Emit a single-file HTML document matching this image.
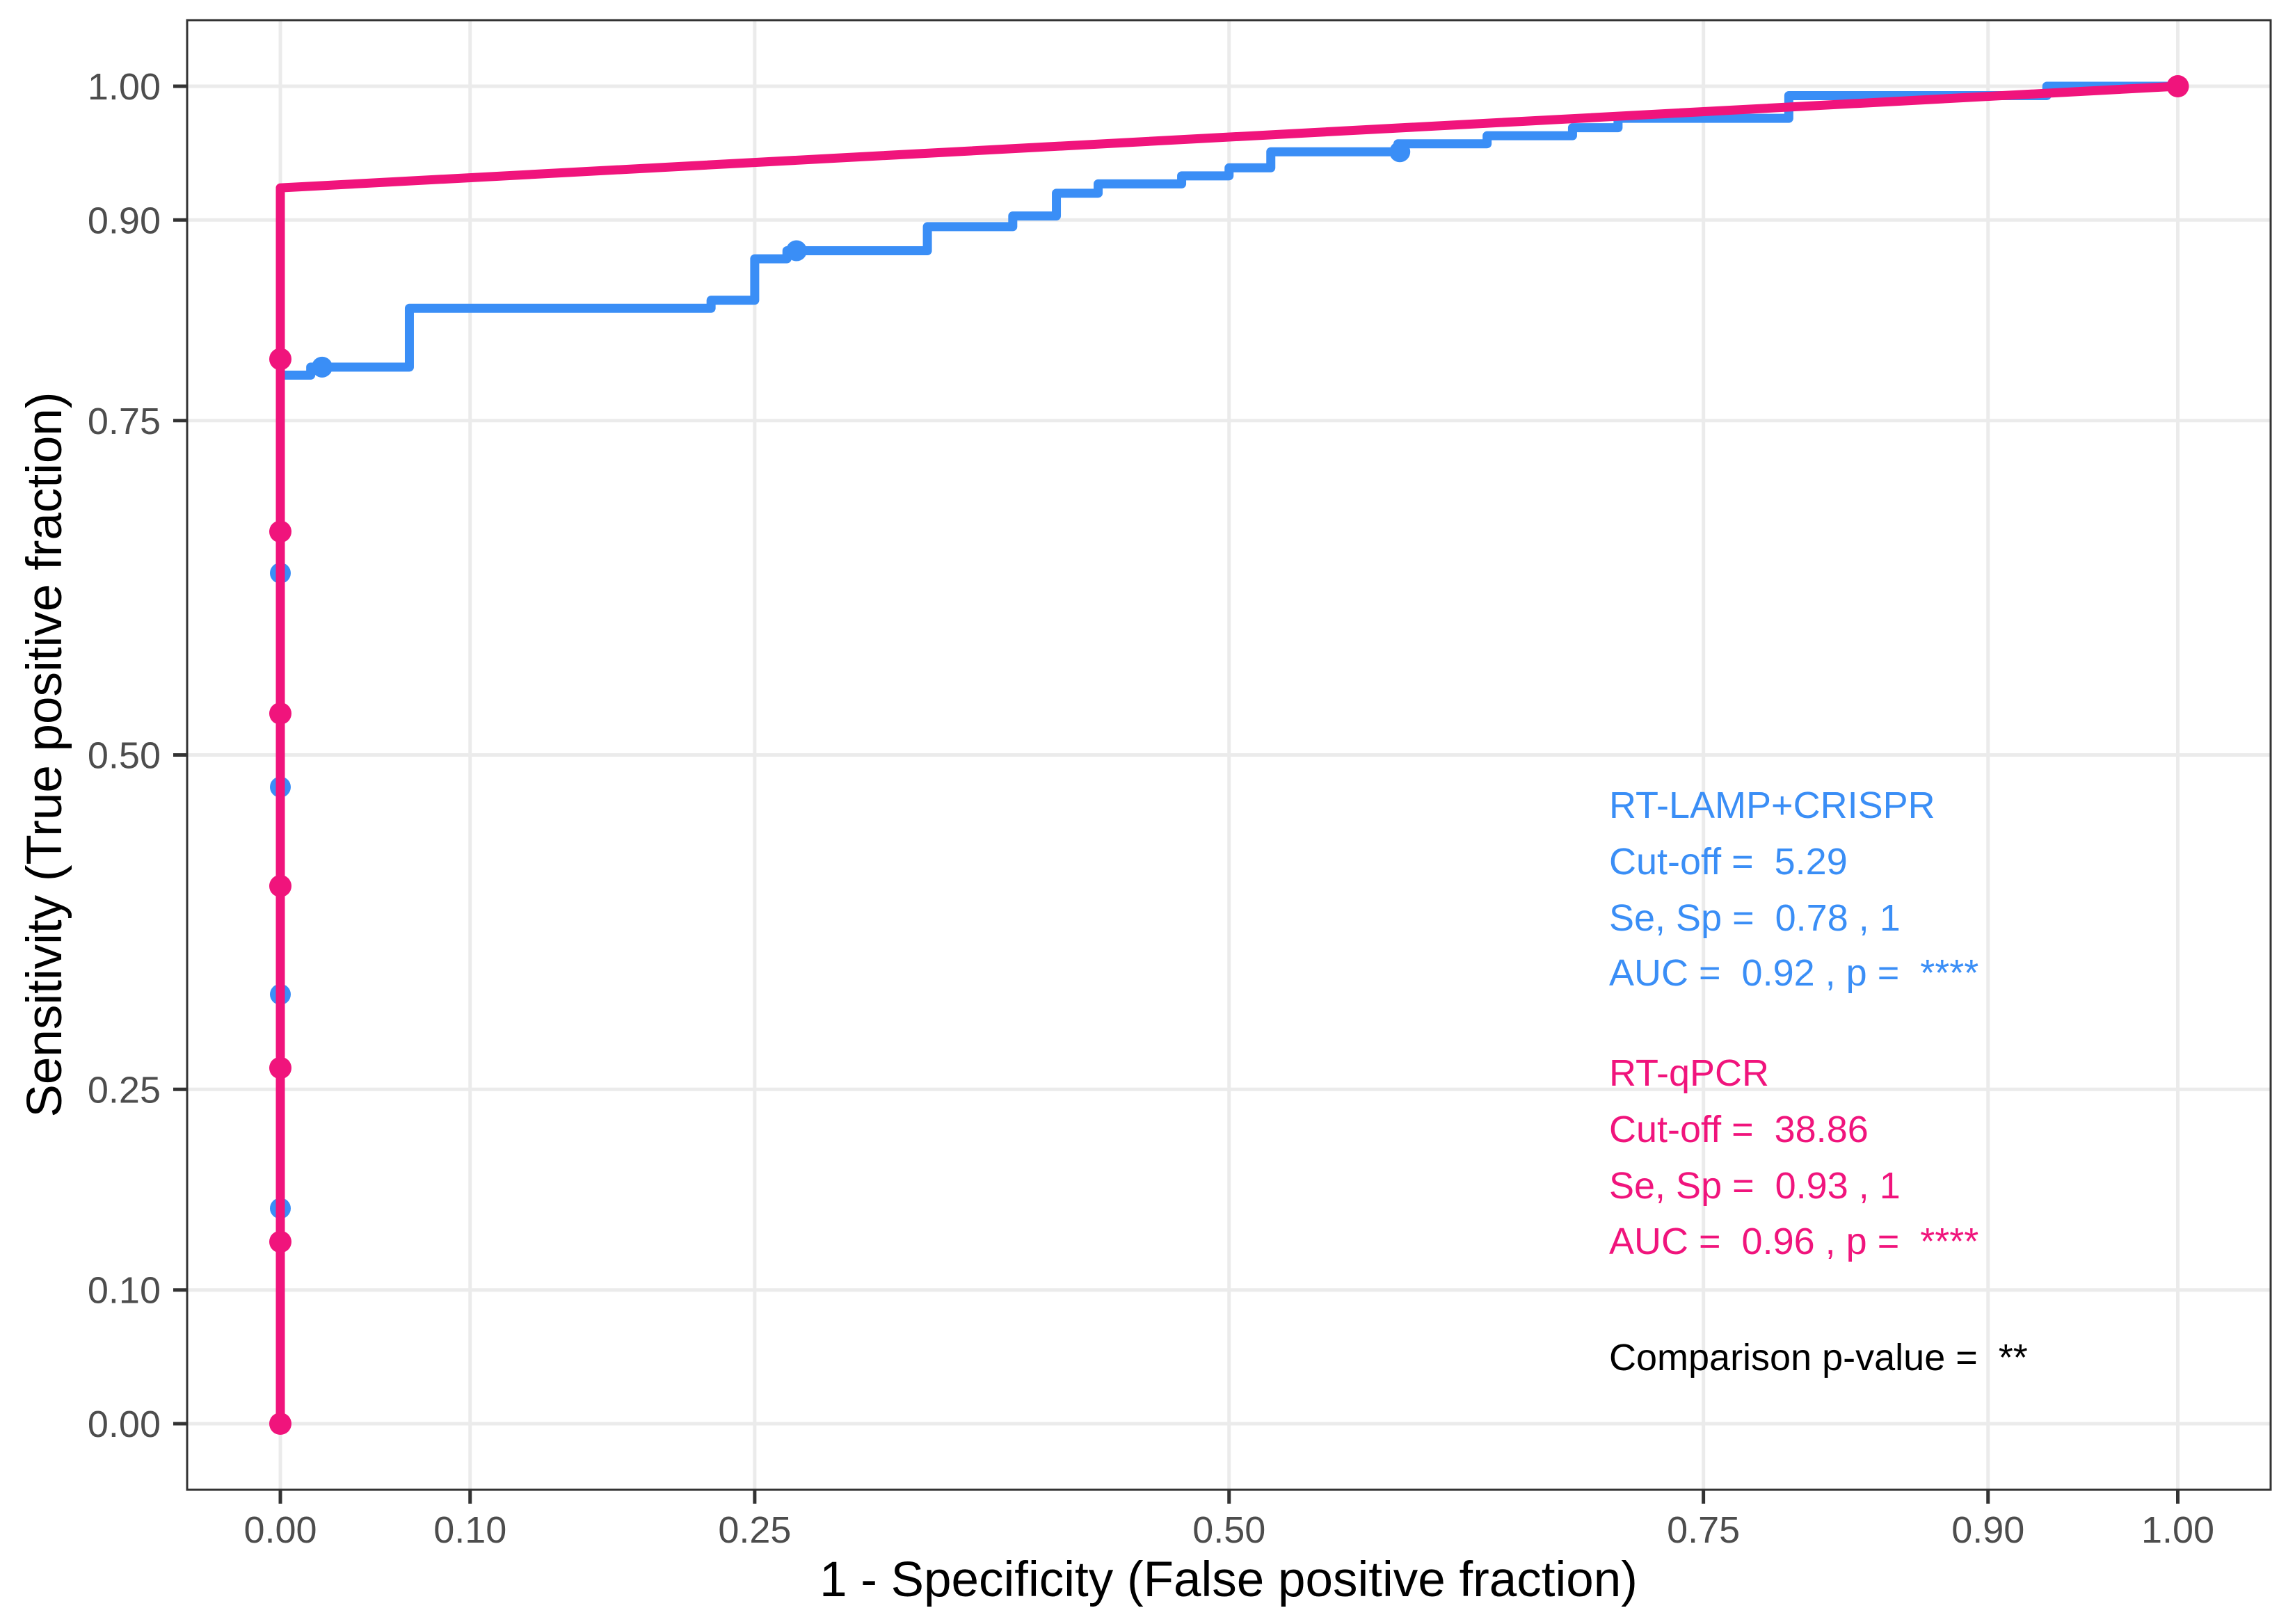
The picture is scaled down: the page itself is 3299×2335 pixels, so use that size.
<!DOCTYPE html>
<html><head><meta charset="utf-8"><style>
html,body{margin:0;padding:0;background:#fff;}
svg{display:block;font-family:"Liberation Sans",Arial,sans-serif;}
text{white-space:pre;}
</style></head><body>
<svg id="chart" width="3299" height="2335" viewBox="0 0 3299 2335" xmlns="http://www.w3.org/2000/svg" xml:space="preserve">
<rect x="0" y="0" width="3299" height="2335" fill="#fff"/>
<g id="grid"></g>
<g id="series"></g>
<rect x="269" y="29" width="2995" height="2113" fill="none" stroke="#333" stroke-width="3"/>
<g id="axes"></g>
<text x="1766" y="2295" font-size="71" text-anchor="middle" fill="#000">1 - Specificity (False positive fraction)</text>
<text transform="translate(88,1085) rotate(-90)" font-size="71" text-anchor="middle" fill="#000">Sensitivity (True positive fraction)</text>
<g font-size="54">
<text x="2313" y="1176" fill="#3A8EF6">RT-LAMP+CRISPR</text>
<text x="2313" y="1257" fill="#3A8EF6">Cut-off =  5.29</text>
<text x="2313" y="1338" fill="#3A8EF6">Se, Sp =  0.78 , 1</text>
<text x="2313" y="1417" fill="#3A8EF6">AUC =  0.92 , p =  ****</text>
<text x="2313" y="1561" fill="#F0147C">RT-qPCR</text>
<text x="2313" y="1642" fill="#F0147C">Cut-off =  38.86</text>
<text x="2313" y="1723" fill="#F0147C">Se, Sp =  0.93 , 1</text>
<text x="2313" y="1803" fill="#F0147C">AUC =  0.96 , p =  ****</text>
<text x="2313" y="1970" fill="#000">Comparison p-value =  **</text>
</g>
</svg>
<script>
const tickValues = [0, 0.10, 0.25, 0.50, 0.75, 0.90, 1.00];
const tickLabels = ["0.00","0.10","0.25","0.50","0.75","0.90","1.00"];
const blueFpr = [0, 0, 0.016, 0.068, 0.227, 0.25, 0.267, 0.341, 0.386, 0.409, 0.431, 0.475, 0.5, 0.522, 0.589, 0.636, 0.681, 0.705, 0.795, 0.931, 1.0];
const blueTpr = [0, 0.784, 0.79, 0.834, 0.840, 0.871, 0.877, 0.895, 0.903, 0.920, 0.927, 0.933, 0.939, 0.951, 0.957, 0.963, 0.969, 0.976, 0.993, 1.0, 1.0];
const bluePtFpr = [0, 0, 0, 0, 0.022, 0.272, 0.590];
const bluePtTpr = [0.161, 0.321, 0.476, 0.636, 0.79, 0.877, 0.951];
const redFpr = [0, 0, 1.0];
const redTpr = [0, 0.924, 1.0];
const redPtFpr = [0, 0, 0, 0, 0, 0, 0, 1.0];
const redPtTpr = [0, 0.136, 0.266, 0.402, 0.531, 0.667, 0.796, 1.0];

const NS = "http://www.w3.org/2000/svg";
function xs(v){ return 403 + 2727.5 * v; }
function ys(v){ return 2047 - 1923 * v; }
function mk(tag, attrs, parent){
  const e = document.createElementNS(NS, tag);
  for (const k in attrs) e.setAttribute(k, attrs[k]);
  parent.appendChild(e); return e;
}
const grid = document.getElementById('grid');
const axes = document.getElementById('axes');
const series = document.getElementById('series');
tickValues.forEach((v, i) => {
  const gx = mk('line', {x1: xs(v), x2: xs(v), y1: 29, y2: 2142, stroke: '#ebebeb', 'stroke-width': 5}, grid);
  
  
  const gy = mk('line', {x1: 269, x2: 3264, y1: ys(v), y2: ys(v), stroke: '#ebebeb', 'stroke-width': 5}, grid);
  
  
  const tx = mk('line', {x1: xs(v), x2: xs(v), y1: 2142, y2: 2162, stroke: '#333', 'stroke-width': 5}, axes);
  
  
  const ty = mk('line', {x1: 249, x2: 269, y1: ys(v), y2: ys(v), stroke: '#333', 'stroke-width': 5}, axes);
  
  
  const lx = mk('text', {x: xs(v), y: 2218, 'font-size': 54, fill: '#4d4d4d', 'text-anchor': 'middle'}, axes);
  lx.textContent = tickLabels[i];
  
  
  const ly = mk('text', {x: 231, y: ys(v) + 19, 'font-size': 54, fill: '#4d4d4d', 'text-anchor': 'end'}, axes);
  ly.textContent = tickLabels[i];
  
  
});
function stepPath(fx, fy){
  let d = 'M' + xs(fx[0]) + ',' + ys(fy[0]);
  for (let i = 1; i < fx.length; i++) d += ' H' + xs(fx[i]) + ' V' + ys(fy[i]);
  return d;
}
function linePath(fx, fy){
  let d = 'M' + xs(fx[0]) + ',' + ys(fy[0]);
  for (let i = 1; i < fx.length; i++) d += ' L' + xs(fx[i]) + ',' + ys(fy[i]);
  return d;
}
const bl = mk('path', {d: stepPath(blueFpr, blueTpr), fill: 'none', stroke: '#3A8EF6', 'stroke-width': 13, 'stroke-linejoin': 'round'}, series);


bluePtFpr.forEach((v, i) => {
  const c = mk('circle', {cx: xs(v), cy: ys(bluePtTpr[i]), r: 15, fill: '#3A8EF6'}, series);
  
  
});
const rl = mk('path', {d: linePath(redFpr, redTpr), fill: 'none', stroke: '#F0147C', 'stroke-width': 13, 'stroke-linejoin': 'round'}, series);


redPtFpr.forEach((v, i) => {
  const c = mk('circle', {cx: xs(v), cy: ys(redPtTpr[i]), r: 16, fill: '#F0147C'}, series);
  
  
});
</script>
</body></html>
